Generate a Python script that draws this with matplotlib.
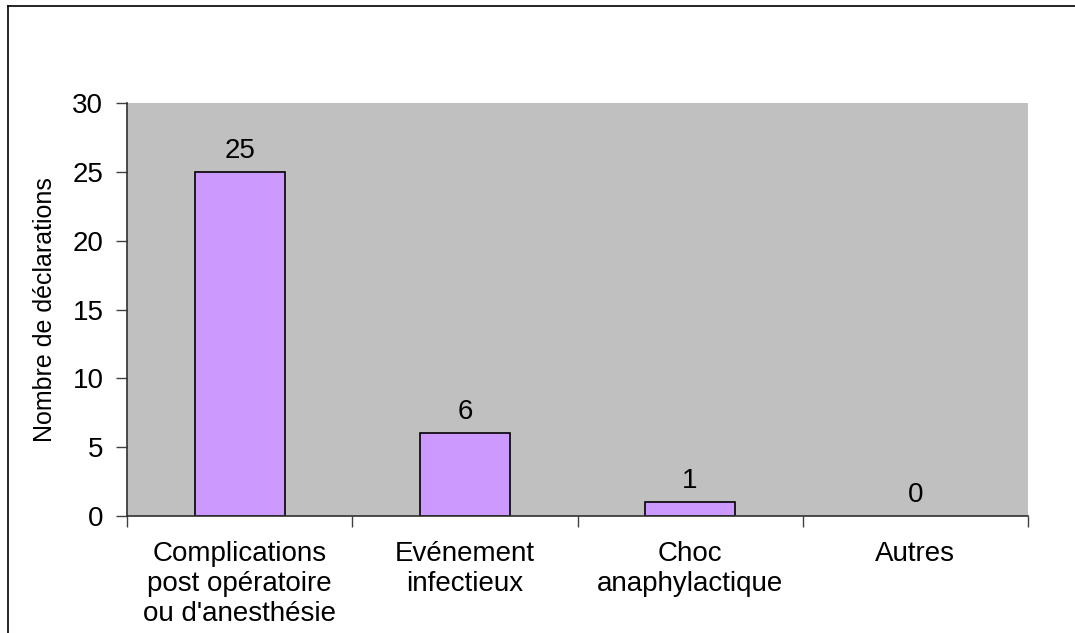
import numpy as np
import matplotlib.pyplot as plt
from matplotlib.lines import Line2D

plt.rcParams["font.family"] = ["Liberation Sans", "DejaVu Sans"]

CATEGORIES = [
    "Complications\npost opératoire\nou d'anesthésie",
    "Evénement\ninfectieux",
    "Choc\nanaphylactique",
    "Autres",
]
VALUES = [25, 6, 1, 0]
Y_TICKS = [0, 5, 10, 15, 20, 25, 30]
Y_LABEL = "Nombre de déclarations"

BAR_COLOR = "#CC99FF"
PLOT_BG = "#C0C0C0"
FS = 20


def main():
    fig = plt.figure(figsize=(10.75, 6.33), dpi=100)
    ax = fig.add_axes([127 / 1075, 1 - 516 / 633, (1028 - 127) / 1075, (516 - 103) / 633])
    ax.set_facecolor(PLOT_BG)

    x = np.arange(len(CATEGORIES))
    bars = ax.bar(x, VALUES, width=0.4, color=BAR_COLOR, edgecolor="black", linewidth=1.2, zorder=2)
    for bar, v in zip(bars, VALUES):
        if v == 0:
            bar.set_linewidth(0)
        ax.annotate(
            f"{v}",
            (bar.get_x() + bar.get_width() / 2, bar.get_height()),
            xytext=(0, 6),
            textcoords="offset points",
            ha="center",
            va="bottom",
            fontsize=FS,
        )

    ax.set_xlim(-0.5, len(CATEGORIES) - 0.5)
    ax.set_ylim(0, 30)
    ax.set_yticks(Y_TICKS)
    ax.tick_params(axis="y", labelsize=FS, length=8, width=1, color="#404040", pad=9)

    # boundary ticks on x, labels at the bar centres
    ax.set_xticks(np.arange(-0.5, len(CATEGORIES), 1.0))
    ax.set_xticklabels([])
    ax.tick_params(axis="x", which="major", length=8, width=1, color="#404040")
    ax.set_xticks(x, minor=True)
    ax.set_xticklabels(CATEGORIES, minor=True, fontsize=FS, linespacing=1.2)
    ax.tick_params(axis="x", which="minor", length=0, pad=18)

    for side in ("top", "right"):
        ax.spines[side].set_visible(False)
    for side in ("left", "bottom"):
        ax.spines[side].set_color("#303030")
        ax.spines[side].set_linewidth(1.2)

    ax.set_ylabel(Y_LABEL, fontsize=18, labelpad=11)

    # outer frame (left and top edges visible)
    fig.add_artist(Line2D([8 / 1075, 8 / 1075], [0, 1 - 6 / 633], color="black", lw=1.2, transform=fig.transFigure))
    fig.add_artist(Line2D([8 / 1075, 1], [1 - 6 / 633, 1 - 6 / 633], color="black", lw=1.2, transform=fig.transFigure))

    fig.savefig("out.png", dpi=100)
    plt.close(fig)


if __name__ == "__main__":
    main()
